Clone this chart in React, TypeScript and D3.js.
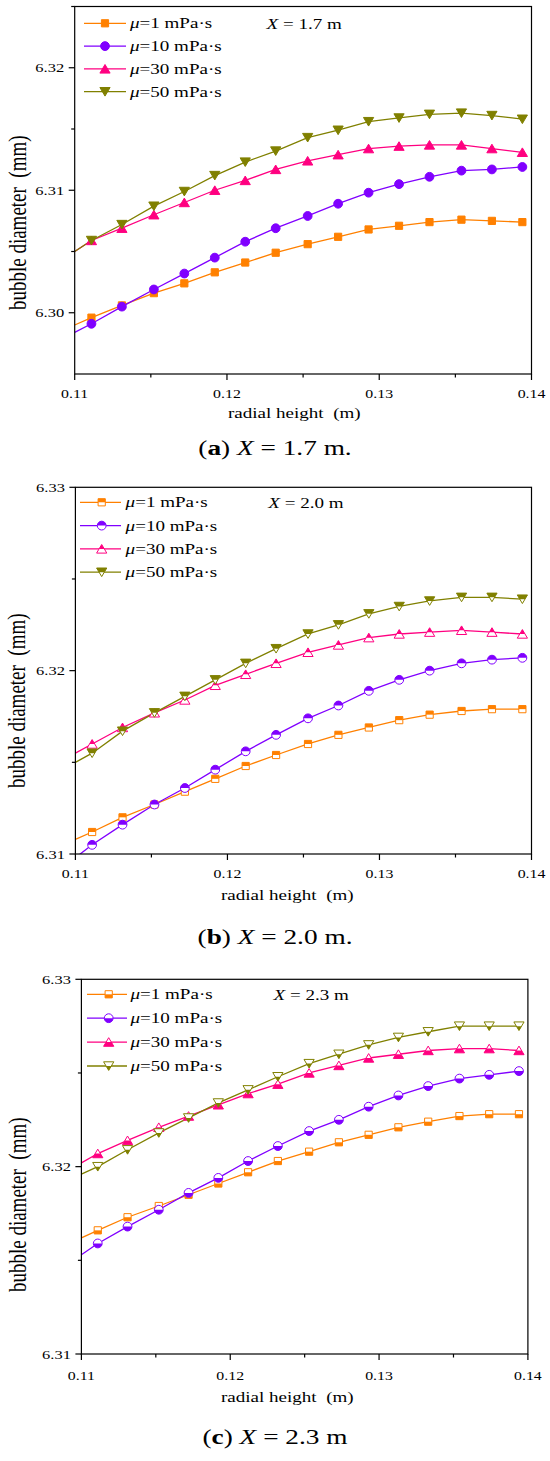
import React from "react";
import * as d3 from "d3";

// ---------- DATA ----------
// first entry (0.11) is where the line enters the plot; markers are drawn at the rest
const radialHeight = [0.11, 0.1111, 0.1131, 0.1152, 0.1172, 0.1192, 0.1212, 0.1232, 0.1253, 0.1273, 0.1293, 0.1313, 0.1333, 0.1354, 0.1374, 0.1394];

const seriesNames = ["1", "10", "30", "50"];
const seriesColors = ["#FF8000", "#8000FF", "#FF0080", "#808000"];
const seriesShapes = ["square", "circle", "triUp", "triDown"];

const mu1_X17 = [6.2990, 6.2996, 6.3006, 6.3016, 6.3024, 6.3033, 6.3041, 6.3049, 6.3056, 6.3062, 6.3068, 6.3071, 6.3074, 6.3076, 6.3075, 6.3074];
const mu10_X17 = [6.2984, 6.2991, 6.3005, 6.3019, 6.3032, 6.3045, 6.3058, 6.3069, 6.3079, 6.3089, 6.3098, 6.3105, 6.3111, 6.3116, 6.3117, 6.3119];
const mu30_X17 = [6.3050, 6.3059, 6.3069, 6.3080, 6.3090, 6.3100, 6.3108, 6.3117, 6.3124, 6.3129, 6.3134, 6.3136, 6.3137, 6.3137, 6.3134, 6.3131];
const mu50_X17 = [6.3050, 6.3059, 6.3072, 6.3087, 6.3099, 6.3112, 6.3123, 6.3132, 6.3143, 6.3149, 6.3156, 6.3159, 6.3162, 6.3163, 6.3161, 6.3158];

const mu1_X20 = [6.3108, 6.3112, 6.3120, 6.3127, 6.3134, 6.3141, 6.3148, 6.3154, 6.3160, 6.3165, 6.3169, 6.3173, 6.3176, 6.3178, 6.3179, 6.3179];
const mu10_X20 = [6.3098, 6.3105, 6.3116, 6.3127, 6.3136, 6.3146, 6.3156, 6.3165, 6.3174, 6.3181, 6.3189, 6.3195, 6.3200, 6.3204, 6.3206, 6.3207];
const mu30_X20 = [6.3155, 6.3160, 6.3169, 6.3177, 6.3184, 6.3192, 6.3198, 6.3204, 6.3210, 6.3214, 6.3218, 6.3220, 6.3221, 6.3222, 6.3221, 6.3220];
const mu50_X20 = [6.3150, 6.3155, 6.3167, 6.3177, 6.3186, 6.3195, 6.3204, 6.3212, 6.3220, 6.3225, 6.3231, 6.3235, 6.3238, 6.3240, 6.3240, 6.3239];

const mu1_X23 = [6.3162, 6.3166, 6.3173, 6.3179, 6.3185, 6.3191, 6.3197, 6.3203, 6.3208, 6.3213, 6.3217, 6.3221, 6.3224, 6.3227, 6.3228, 6.3228];
const mu10_X23 = [6.3153, 6.3159, 6.3168, 6.3177, 6.3186, 6.3194, 6.3203, 6.3211, 6.3219, 6.3225, 6.3232, 6.3238, 6.3243, 6.3247, 6.3249, 6.3251];
const mu30_X23 = [6.3202, 6.3207, 6.3214, 6.3221, 6.3227, 6.3233, 6.3239, 6.3244, 6.3250, 6.3254, 6.3258, 6.3260, 6.3262, 6.3263, 6.3263, 6.3262];
const mu50_X23 = [6.3196, 6.3200, 6.3209, 6.3218, 6.3226, 6.3234, 6.3241, 6.3248, 6.3255, 6.3260, 6.3265, 6.3269, 6.3272, 6.3275, 6.3275, 6.3275];

const xMajorTicks = [0.11, 0.12, 0.13, 0.14];
const xMinorTicks = [0.115, 0.125, 0.135];
const xTickLabels = ["0.11", "0.12", "0.13", "0.14"];

const yMajorA = [6.30, 6.31, 6.32];
const yMinorA = [6.305, 6.315, 6.325];
const yLabelsA = ["6.30", "6.31", "6.32"];
const yMajorBC = [6.31, 6.32, 6.33];
const yMinorBC = [6.315, 6.325];
const yLabelsBC = ["6.31", "6.32", "6.33"];

const panelLetters = ["a", "b", "c"];
const panelX = ["1.7", "2.0", "2.3"];
const captionTails = [" m.", " m.", " m"];

// ---------- LAYOUT ----------
const SX = 1.27; // horizontal stretch of the original raster text
const FONT = "'Liberation Serif', 'Times New Roman', serif";

const panels = [
  {
    series: [mu1_X17, mu10_X17, mu30_X17, mu50_X17],
    fill: "full",
    left: 74.7, right: 531.5, top: 6.5, bottom: 374,
    yDomain: [6.295, 6.325], yMajor: yMajorA, yMinor: yMinorA, yLabels: yLabelsA,
    legend: { x0: 84, x1: 126, mx: 105, tx: 130, y0: 23.3, step: 22.8 },
    title: { x: 266.6, y: 28.5 },
    tickY: 397.5, xTitle: { x: 228, y: 418 }, capY: 455, yTitle: { x: 26, y: 310 },
  },
  {
    series: [mu1_X20, mu10_X20, mu30_X20, mu50_X20],
    fill: "top",
    left: 75.4, right: 531.5, top: 487.3, bottom: 854,
    yDomain: [6.31, 6.33], yMajor: yMajorBC, yMinor: yMinorBC, yLabels: yLabelsBC,
    legend: { x0: 80, x1: 121, mx: 101.7, tx: 125.6, y0: 502.3, step: 23.3 },
    title: { x: 268.3, y: 507.5 },
    tickY: 878, xTitle: { x: 221, y: 900 }, capY: 944, yTitle: { x: 24.5, y: 788 },
  },
  {
    series: [mu1_X23, mu10_X23, mu30_X23, mu50_X23],
    fill: "bottom",
    left: 81.4, right: 527.9, top: 979.3, bottom: 1354,
    yDomain: [6.31, 6.33], yMajor: yMajorBC, yMinor: yMinorBC, yLabels: yLabelsBC,
    legend: { x0: 87, x1: 127, mx: 108.7, tx: 130.5, y0: 994.3, step: 23.9 },
    title: { x: 273.6, y: 999.5 },
    tickY: 1380, xTitle: { x: 221, y: 1402 }, capY: 1444, yTitle: { x: 26, y: 1292 },
  },
];

const shapePaths: Record<string, { full: string; top: string; bottom: string }> = {
  square: {
    full: "M-3.6,-3.6H3.6V3.6H-3.6Z",
    top: "M-3.6,-3.6H3.6V0H-3.6Z",
    bottom: "M-3.6,0H3.6V3.6H-3.6Z",
  },
  circle: {
    full: "M-4.4,0A4.4,4.4 0 1,0 4.4,0A4.4,4.4 0 1,0 -4.4,0Z",
    top: "M-4.4,0A4.4,4.4 0 0,1 4.4,0Z",
    bottom: "M-4.4,0A4.4,4.4 0 0,0 4.4,0Z",
  },
  triUp: {
    full: "M0,-4.4L5.1,4.2L-5.1,4.2Z",
    top: "M0,-4.4L2.61,0L-2.61,0Z",
    bottom: "M-2.61,0L2.61,0L5.1,4.2L-5.1,4.2Z",
  },
  triDown: {
    full: "M0,4.4L5.1,-4.2L-5.1,-4.2Z",
    top: "M-5.1,-4.2L5.1,-4.2L2.61,0L-2.61,0Z",
    bottom: "M-2.61,0L2.61,0L0,4.4Z",
  },
};

function Marker({ shape, color, fill, x, y }: any) {
  const s = shapePaths[shape];
  if (fill === "full") {
    return <path transform={`translate(${x},${y})`} d={s.full} fill={color} stroke={color} strokeWidth={1} />;
  }
  return (
    <g transform={`translate(${x},${y})`}>
      <path d={s.full} fill="#fff" stroke="none" />
      <path d={fill === "top" ? s.top : s.bottom} fill={color} stroke="none" />
      <path d={s.full} fill="none" stroke={color} strokeWidth={1} />
    </g>
  );
}

function T({ x, y, size, anchor = "start", children, rotate = false, pre = false }: any) {
  const tr = rotate
    ? `translate(${x},${y}) scale(${SX},1) rotate(-90)`
    : `translate(${x},${y}) scale(${SX},1)`;
  return (
    <text
      transform={tr}
      fontSize={size}
      fontFamily={FONT}
      textAnchor={anchor}
      fill="#000"
      style={pre ? { whiteSpace: "pre" } : undefined}
    >
      {children}
    </text>
  );
}

function Panel({ p, idx }: any) {
  const xs = d3.scaleLinear().domain([0.11, 0.14]).range([p.left, p.right]);
  const ys = d3.scaleLinear().domain(p.yDomain).range([p.bottom, p.top]);
  const clipId = `plot${idx}`;
  const line = d3
    .line<number>()
    .x((_, i) => xs(radialHeight[i]))
    .y((v) => ys(v));

  return (
    <g>
      <defs>
        <clipPath id={clipId}>
          <rect x={p.left} y={p.top} width={p.right - p.left} height={p.bottom - p.top} />
        </clipPath>
      </defs>

      {/* series */}
      <g clipPath={`url(#${clipId})`}>
        {p.series.map((vals: number[], si: number) => (
          <path key={si} d={line(vals) || ""} fill="none" stroke={seriesColors[si]} strokeWidth={1.3} />
        ))}
      </g>
      {p.series.map((vals: number[], si: number) =>
        vals.slice(1).map((v: number, i: number) => (
          <Marker
            key={`${si}-${i}`}
            shape={seriesShapes[si]}
            color={seriesColors[si]}
            fill={p.fill}
            x={xs(radialHeight[i + 1])}
            y={ys(v)}
          />
        ))
      )}

      {/* frame */}
      <rect x={p.left} y={p.top} width={p.right - p.left} height={p.bottom - p.top} fill="none" stroke="#000" strokeWidth={1.2} />

      {/* x ticks */}
      {xMajorTicks.map((t, i) => (
        <g key={`xm${i}`}>
          <line x1={xs(t)} x2={xs(t)} y1={p.bottom} y2={p.bottom + 6} stroke="#000" strokeWidth={1.2} />
          <T x={xs(t)} y={p.tickY} size={12.5} anchor="middle">{xTickLabels[i]}</T>
        </g>
      ))}
      {xMinorTicks.map((t, i) => (
        <line key={`xn${i}`} x1={xs(t)} x2={xs(t)} y1={p.bottom} y2={p.bottom + 3.5} stroke="#000" strokeWidth={1.2} />
      ))}

      {/* y ticks */}
      {p.yMajor.map((t: number, i: number) => (
        <g key={`ym${i}`}>
          <line x1={p.left - 6} x2={p.left} y1={ys(t)} y2={ys(t)} stroke="#000" strokeWidth={1.2} />
          <T x={p.left - 10.5} y={ys(t) + 4.5} size={13} anchor="end">{p.yLabels[i]}</T>
        </g>
      ))}
      {p.yMinor.map((t: number, i: number) => (
        <line key={`yn${i}`} x1={p.left - 3.5} x2={p.left} y1={ys(t)} y2={ys(t)} stroke="#000" strokeWidth={1.2} />
      ))}

      {/* axis titles */}
      <T x={p.xTitle.x} y={p.xTitle.y} size={15} pre>{"radial height  (m)"}</T>
      <T x={p.yTitle.x} y={p.yTitle.y} size={19} rotate pre>{"bubble diameter  (mm)"}</T>

      {/* legend */}
      {seriesNames.map((n, si) => {
        const cy = p.legend.y0 + si * p.legend.step;
        return (
          <g key={`lg${si}`}>
            <line x1={p.legend.x0} x2={p.legend.x1} y1={cy} y2={cy} stroke={seriesColors[si]} strokeWidth={1.3} />
            <Marker shape={seriesShapes[si]} color={seriesColors[si]} fill={p.fill} x={p.legend.mx} y={cy} />
            <T x={p.legend.tx} y={cy + 5} size={15}>
              <tspan fontStyle="italic">{"μ"}</tspan>
              <tspan>{`=${n} mPa·s`}</tspan>
            </T>
          </g>
        );
      })}
      <T x={p.title.x} y={p.title.y} size={15}>
        <tspan fontStyle="italic">{"X"}</tspan>
        <tspan>{` = ${panelX[idx]} m`}</tspan>
      </T>

      {/* caption */}
      <T x={275} y={p.capY} size={21.5} anchor="middle" pre>
        <tspan>{"("}</tspan>
        <tspan fontWeight="bold">{panelLetters[idx]}</tspan>
        <tspan>{") "}</tspan>
        <tspan fontStyle="italic">{"X"}</tspan>
        <tspan>{` = ${panelX[idx]}${captionTails[idx]}`}</tspan>
      </T>
    </g>
  );
}

export default function App() {
  return (
    <svg
      width={550}
      height={1461}
      viewBox="0 0 550 1461"
      style={{ position: "absolute", left: 0, top: 0, background: "#fff" }}
    >
      <rect x={0} y={0} width={550} height={1461} fill="#fff" />
      {panels.map((p, i) => (
        <Panel key={i} p={p} idx={i} />
      ))}
    </svg>
  );
}
